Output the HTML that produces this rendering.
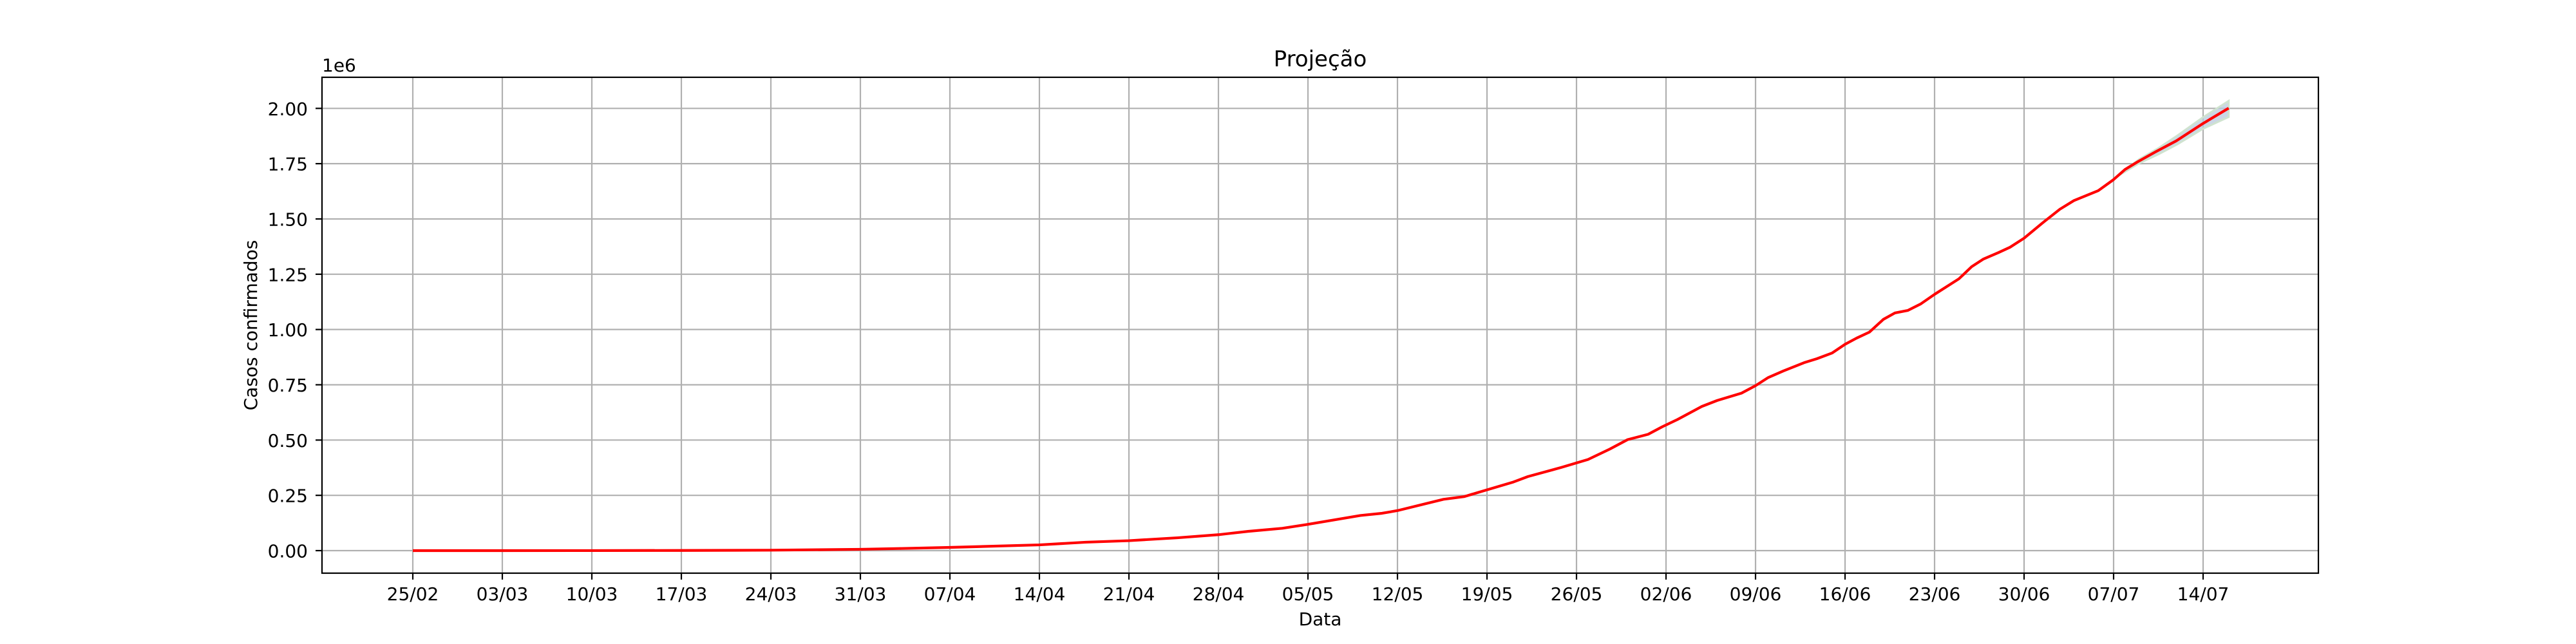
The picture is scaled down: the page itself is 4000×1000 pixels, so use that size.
<!DOCTYPE html>
<html><head><meta charset="utf-8"><style>
html,body{margin:0;padding:0;background:#fff;}
svg{display:block;font-family:"DejaVu Sans","Liberation Sans",sans-serif;}
</style></head><body>
<svg id="chart" width="4000" height="1000" viewBox="0 0 4000 1000" xmlns="http://www.w3.org/2000/svg">
<rect width="4000" height="1000" fill="#fff"/>
<g id="grid"></g>
<g id="band"></g>
<g id="series"></g>
<g id="axes"></g>
<text x="2050" y="103" font-size="34" text-anchor="middle">Projeção</text>
<text x="2050" y="971" font-size="28" text-anchor="middle">Data</text>
<text x="0" y="0" font-size="28" text-anchor="middle" transform="translate(399,505) rotate(-90)">Casos confirmados</text>
<text x="500" y="111" font-size="28">1e6</text>
</svg>
<script>
// data (days since 25/02, values in millions)
const days = [0,7,14,21,28,35,38.2,42,49,52.6,56,59.8,63,65.3,68,70,74.1,75.8,77,80.6,82.2,84,86,87.2,89.8,91.9,93.6,95,96.6,97.7,98.9,100.8,102,103.9,105,106,107.2,108.8,109.8,111,112,112.9,113.9,115,115.9,116.9,117.9,119,120.9,121.9,122.8,124,124.9,126,127.4,128.8,129.9,131.8,133,133.9,134.9,136.3,137.9,140,142];
const values = [0,0,0.0002,0.0008,0.002,0.006,0.0097,0.0145,0.026,0.038,0.045,0.058,0.072,0.087,0.101,0.119,0.159,0.169,0.181,0.232,0.244,0.275,0.309,0.335,0.376,0.412,0.459,0.502,0.526,0.560,0.593,0.652,0.679,0.712,0.746,0.783,0.813,0.850,0.868,0.894,0.933,0.961,0.988,1.046,1.075,1.086,1.115,1.159,1.229,1.284,1.318,1.348,1.372,1.413,1.480,1.544,1.583,1.628,1.678,1.724,1.759,1.804,1.853,1.932,2.001];
const bandDays = [133.5,135,136.5,138,140,142];
const bandUpper = [1.705,1.770,1.820,1.878,1.960,2.034];
const bandLower = [1.700,1.752,1.792,1.838,1.908,1.961];
const xTickDays = [0,7,14,21,28,35,42,49,56,63,70,77,84,91,98,105,112,119,126,133,140];
const xTickLabels = ["25/02","03/03","10/03","17/03","24/03","31/03","07/04","14/04","21/04","28/04","05/05","12/05","19/05","26/05","02/06","09/06","16/06","23/06","30/06","07/07","14/07"];
const yTicks = [0,0.25,0.5,0.75,1.0,1.25,1.5,1.75,2.0];
const yTickLabels = ["0.00","0.25","0.50","0.75","1.00","1.25","1.50","1.75","2.00"];

const L=500,R=3600,T=120,B=890;
function X(d){return 641+d*19.857;}
function Y(v){return 855-v*343.35;}
const NS="http://www.w3.org/2000/svg";
function mk(tag,attrs,parent){const e=document.createElementNS(NS,tag);for(const k in attrs)e.setAttribute(k,attrs[k]);parent.appendChild(e);return e;}
const grid=document.getElementById('grid'),axes=document.getElementById('axes'),band=document.getElementById('band'),series=document.getElementById('series');

xTickDays.forEach((d,i)=>{
  const x=X(d);
  const g=mk('line',{x1:x,x2:x,y1:T,y2:B,stroke:'#b0b0b0','stroke-width':2.2},grid);
  
  
  const t=mk('line',{x1:x,x2:x,y1:B,y2:B+10,stroke:'#000','stroke-width':2.2},axes);
  
  
  const lb=mk('text',{x:x,y:932,'font-size':28,'text-anchor':'middle'},axes);
  lb.textContent=xTickLabels[i];
  
  
});
yTicks.forEach((v,i)=>{
  const y=Y(v);
  const g=mk('line',{x1:L,x2:R,y1:y,y2:y,stroke:'#b0b0b0','stroke-width':2.2},grid);
  
  
  const t=mk('line',{x1:L-10,x2:L,y1:y,y2:y,stroke:'#000','stroke-width':2.2},axes);
  
  
  const lb=mk('text',{x:478,y:y+10.5,'font-size':28,'text-anchor':'end'},axes);
  lb.textContent=yTickLabels[i];
  
  
});
const frame=mk('rect',{x:L,y:T,width:R-L,height:B-T,fill:'none',stroke:'#000','stroke-width':2.2},axes);



let bp='';
bandDays.forEach((d,i)=>{bp+=(i?'L':'M')+X(d)+' '+Y(bandUpper[i]);});
for(let i=bandDays.length-1;i>=0;i--){bp+='L'+X(bandDays[i])+' '+Y(bandLower[i]);}
const bandPath=mk('path',{d:bp+'Z',fill:'#b9c8dc','fill-opacity':0.75,stroke:'#cfe3cf','stroke-width':3},band);



const pts=days.map((d,i)=>X(d)+','+Y(values[i])).join(' ');
const line=mk('polyline',{points:pts,fill:'none',stroke:'#ff0000','stroke-width':4.2,'stroke-linejoin':'round'},series);


</script>
</body></html>
